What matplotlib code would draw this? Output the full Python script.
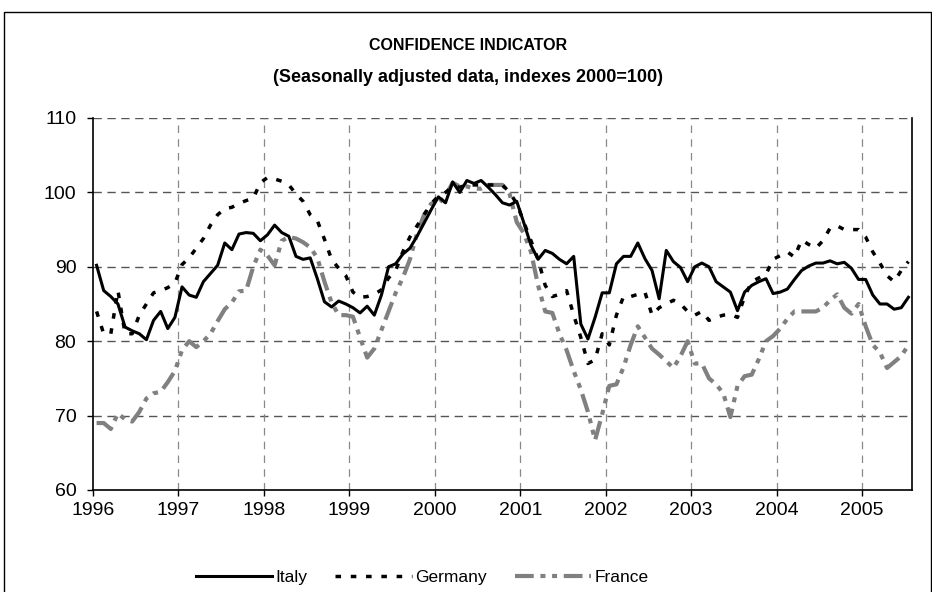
import numpy as np
import matplotlib
matplotlib.use("Agg")
import matplotlib.pyplot as plt
from matplotlib.lines import Line2D

plt.rcParams['font.family'] = ['Liberation Sans', 'DejaVu Sans']

# monthly data, Jan 1996 - Jul 2005
italy = [90.2, 86.8, 86.0, 85.0, 81.9, 81.4, 81.0, 80.2, 82.8, 84.0, 81.7, 83.2,
         87.3, 86.2, 85.9, 88.0, 89.1, 90.2, 93.2, 92.3, 94.4, 94.6, 94.5, 93.5,
         94.3, 95.6, 94.6, 94.1, 91.4, 91.0, 91.2, 88.4, 85.3, 84.6, 85.4, 85.0,
         84.5, 83.8, 84.7, 83.5, 86.2, 90.0, 90.4, 91.7, 92.5, 94.1, 95.9, 97.7,
         99.4, 98.6, 101.4, 100.0, 101.6, 101.2, 101.6, 100.7, 99.7, 98.6, 98.3, 98.8,
         95.9, 92.9, 91.0, 92.2, 91.8, 91.0, 90.4, 91.4, 82.3, 80.3, 83.2, 86.5,
         86.5, 90.4, 91.4, 91.4, 93.2, 91.1, 89.5, 85.7, 92.2, 90.7, 89.9, 88.0,
         90.0, 90.5, 90.0, 88.0, 87.3, 86.6, 84.1, 86.6, 87.5, 88.0, 88.4, 86.4,
         86.6, 87.0, 88.3, 89.5, 90.1, 90.5, 90.5, 90.8, 90.4, 90.6, 89.8, 88.3,
         88.3, 86.2, 85.0, 85.0, 84.3, 84.5, 85.9]
germany = [84.0, 81.0, 81.0, 86.8, 81.0, 81.0, 83.5, 85.0, 86.5, 86.8, 87.2, 87.8,
           90.3, 91.2, 92.5, 93.8, 95.6, 97.0, 97.8, 98.0, 98.5, 98.9, 99.2, 101.3,
           102.0, 101.8, 101.5, 101.0, 99.8, 98.8, 97.0, 96.2, 93.7, 91.0, 89.8, 88.8,
           86.6, 85.9, 86.0, 86.3, 86.9, 88.5, 89.5, 92.0, 94.0, 95.5, 97.0, 98.5,
           99.5, 100.0, 100.8, 100.7, 101.0, 101.0, 101.0, 101.0, 101.0, 101.0, 100.0, 98.5,
           96.0, 93.5, 91.0, 87.5, 86.0, 86.3, 86.8, 83.5, 80.5, 77.0, 77.5, 81.0,
           79.5, 83.5, 86.0, 86.0, 86.3, 86.6, 83.5, 84.5, 85.0, 85.5, 85.0, 84.0,
           83.5, 84.0, 82.8, 83.2, 83.5, 83.6, 83.2, 86.0, 88.0, 88.5, 89.0, 91.0,
           91.5, 92.0, 91.3, 93.6, 93.0, 92.5, 93.5, 95.2, 95.5, 95.0, 95.0, 95.0,
           94.0, 92.0, 90.5, 88.8, 88.0, 89.5, 90.7]
france = [69.0, 69.0, 68.2, 70.3, 69.5, 69.2, 70.5, 72.3, 73.0, 73.2, 74.5, 76.0,
          78.8, 80.0, 79.2, 80.0, 81.0, 82.7, 84.3, 85.2, 86.7, 86.8, 90.0, 92.3,
          91.5, 90.2, 93.5, 94.0, 93.8, 93.3, 92.6, 91.2, 88.0, 85.2, 83.5, 83.5,
          83.3, 80.5, 77.8, 79.0, 81.5, 84.0, 86.5, 88.5, 91.0, 94.5, 97.0, 98.5,
          98.5, 99.5, 101.3, 100.8, 100.8, 100.5, 100.5, 101.0, 101.0, 101.0, 99.8, 96.0,
          94.5, 92.0, 87.5, 84.0, 83.8, 81.0, 78.8, 76.0, 73.5, 70.5, 66.7, 70.2,
          74.0, 74.2, 76.5, 79.5, 82.0, 80.5, 79.0, 78.2, 77.3, 76.4, 78.0, 80.0,
          77.0, 77.0, 75.0, 74.2, 73.0, 69.8, 74.0, 75.3, 75.5, 77.6, 80.0, 80.7,
          81.7, 83.0, 84.0, 84.0, 84.0, 84.0, 84.5, 85.5, 86.3, 84.5, 83.7, 85.0,
          82.0, 79.5, 78.5, 76.4, 77.2, 78.0, 79.5]
years = [str(y) for y in range(1996, 2006)]

x = np.arange(len(italy)) + 0.5

fig = plt.figure(figsize=(9.32, 5.92), dpi=100)
ax = fig.add_axes([0.0998, 0.1723, 0.8787, 0.6284])

ax.plot(x, france, color='#808080', lw=3.0, dashes=(4.5, 1.6, 1.2, 1.6, 1.2, 1.6),
        label='France', zorder=3)
ax.plot(x, germany, color='black', lw=2.5, dashes=(1.6, 2.8), label='Germany', zorder=4)
ax.plot(x, italy, color='black', lw=2.2, label='Italy', zorder=5)

ax.set_xlim(0, len(italy))
ax.set_ylim(60, 110)
ax.set_xticks(np.arange(0, len(italy), 12))
ax.set_xticklabels(years)
ax.set_yticks(range(60, 111, 10))
ax.tick_params(axis='both', labelsize=14, length=4, width=1, direction='out')
ax.tick_params(axis='x', pad=5)
ax.tick_params(axis='y', pad=8)

for v in range(70, 111, 10):
    ax.axhline(v, color='#555555', lw=1.0, dashes=(6, 4), zorder=1)
for t in np.arange(12, len(italy), 12):
    ax.axvline(t, color='#888888', lw=0.9, dashes=(6, 5), zorder=1)

ax.spines['top'].set_visible(False)
for s in ['left', 'bottom', 'right']:
    ax.spines[s].set_linewidth(1.2)

fig.text(0.502, 1 - 45 / 592, 'CONFIDENCE INDICATOR', ha='center', va='center',
         fontsize=11.5, fontweight='bold')
fig.text(0.502, 1 - 77 / 592, '(Seasonally adjusted data, indexes 2000=100)',
         ha='center', va='center', fontsize=13, fontweight='bold')

h, l = ax.get_legend_handles_labels()
fig.legend(h[::-1], l[::-1], loc='center', bbox_to_anchor=(0.453, 1 - 577 / 592),
           ncol=3, frameon=False, fontsize=12.5, handlelength=4.4, handletextpad=0.2,
           columnspacing=1.6)

# outer chart border
x0, x1, yt = 4 / 932, 930.5 / 932, 1 - 12 / 592
fig.add_artist(Line2D([x0, x0, x1, x1], [-0.01, yt, yt, -0.01], color='black',
                      lw=1.0, transform=fig.transFigure))

fig.savefig('out.png', dpi=100)
